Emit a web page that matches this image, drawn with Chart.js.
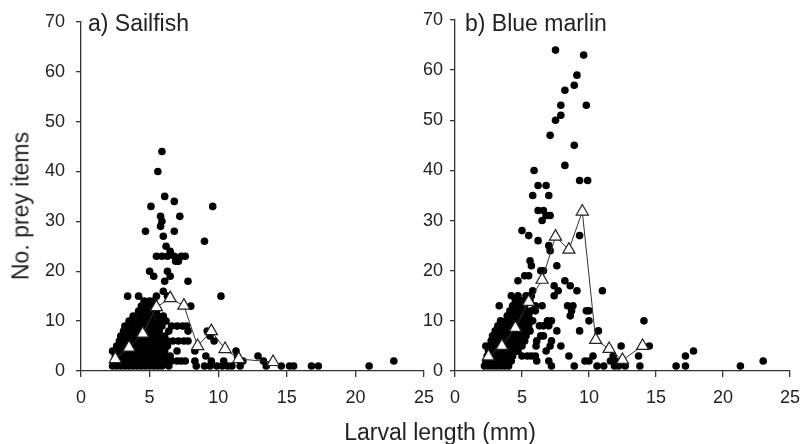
<!DOCTYPE html>
<html>
<head>
<meta charset="utf-8">
<script src="https://cdn.jsdelivr.net/npm/chart.js@4.4.1/dist/chart.umd.min.js"></script>
<style>
  body { margin: 0; background: #fff; width: 810px; height: 444px; overflow: hidden; position: relative;
         font-family: "Liberation Sans", Arial, sans-serif; color: #222; }
  canvas { position: absolute; left: 0; top: 0; }
  .lbl { position: absolute; white-space: nowrap; font-size: 23px; line-height: 23px; }
</style>
</head>
<body>
<canvas id="sailfish" width="810" height="444"></canvas>
<canvas id="marlin" width="810" height="444"></canvas>
<div class="lbl" style="left:88px;top:12px">a) Sailfish</div>
<div class="lbl" style="left:465px;top:12px">b) Blue marlin</div>
<div class="lbl" style="left:440px;top:421px;transform:translateX(-50%)">Larval length (mm)</div>
<div class="lbl" style="left:21px;top:206px;transform:translate(-50%,-50%) rotate(-90deg)">No. prey items</div>
<script>
// x ticks / y ticks
const xTicks = [0, 5, 10, 15, 20, 25];
const yTicks = [0, 10, 20, 30, 40, 50, 60, 70];

// a) Sailfish - individual larvae [length mm, prey items]
const sailfishPoints = [
  [2.3,1],[2.6,1],[2.9,1],[3.2,1],[3.5,1],[3.8,1],[4.1,1],[4.4,1],[4.7,1],[5.0,1],[5.3,1],[5.6,1],[5.9,1],[6.4,1],
  [2.4,2],[2.8,2],[3.1,2],[3.4,2],[3.7,2],[4.0,2],[4.3,2],[4.6,2],[4.9,2],[5.2,2],[5.5,2],[5.8,2],[6.2,2],[6.6,2],
  [2.5,3],[2.9,3],[3.3,3],[3.6,3],[3.9,3],[4.2,3],[4.6,3],[5.0,3],[5.3,3],[5.7,3],[6.0,3],
  [2.3,4],[2.7,4],[3.0,4],[3.4,4],[3.8,4],[4.1,4],[4.5,4],[4.9,4],[5.2,4],[5.6,4],[6.1,4],
  [2.6,5],[3.0,5],[3.3,5],[3.7,5],[4.0,5],[4.4,5],[4.8,5],[5.1,5],[5.5,5],[5.9,5],[6.3,5],
  [2.8,6],[3.2,6],[3.5,6],[3.9,6],[4.3,6],[4.7,6],[5.0,6],[5.4,6],[5.8,6],
  [2.9,7],[3.3,7],[3.6,7],[4.0,7],[4.4,7],[4.8,7],[5.2,7],[5.6,7],[6.1,7],
  [3.1,8],[3.5,8],[3.9,8],[4.2,8],[4.6,8],[5.0,8],[5.3,8],[5.7,8],[6.4,8],
  [3.2,9],[3.7,9],[4.1,9],[4.5,9],[4.9,9],[5.4,9],[5.9,9],
  [3.5,10],[3.9,10],[4.4,10],[4.8,10],[5.2,10],[5.7,10],[6.2,10],
  [3.8,11],[4.3,11],[4.7,11],[5.1,11],[5.6,11],[6.0,11],
  [4.2,12],[4.6,12],[5.0,12],[5.5,12],
  [4.4,13],[4.8,13],[5.2,13],
  [4.6,14],[5.0,14],[5.3,14],
  [6.6,9],[7.0,9],[7.4,9],[7.7,9],[7.8,8],
  [6.0,6],[6.3,6],[6.7,6],[7.1,6],[7.5,6],[7.8,6],
  [7.0,4],[7.0,2],[7.3,2],[7.6,2],[6.5,3],
  [3.4,15],[4.2,15],[5.5,15],[6.3,15],[10.2,15],[8.0,13],
  [6.0,16],[6.1,18],[7.8,18],[5.3,19],[5.0,20],[6.3,20],[6.5,19],
  [6.9,22],[7.1,22],[5.5,23],[5.9,23],[6.3,23],[6.8,23],[7.3,23],[7.6,23],
  [6.5,24],[6.2,25],[9.0,26],[6.0,27],[4.7,28],[6.8,28],
  [5.8,29],[5.9,30],[5.8,31],[7.2,31],[5.1,33],[9.6,33],[6.8,34],[6.1,35],[5.6,40],[5.9,44],
  [8.3,4],[8.3,2],[8.4,1],[9.0,1],[9.4,1],[9.9,1],[10.3,1],[10.7,1],
  [9.1,3],[9.5,2],[10.4,2],[9.2,8],[9.4,7],[9.7,6],
  [11.0,1],[11.3,4],[11.4,3],[11.8,2],[11.6,1],
  [12.9,3],[13.3,2],[13.5,1],[14.6,1],[15.2,1],[15.5,1],[16.8,1],[17.3,1],[21.0,1],[22.8,2]
];
// a) Sailfish - mean per 1 mm class
const sailfishMeans = [
  [2.5,2.4],[3.5,4.7],[4.5,7.5],[5.5,12.8],[6.5,14.6],[7.5,13.1],[8.5,5.0],[9.5,8.0],[10.5,4.4],[11.5,2.4],[14.0,1.8]
];

// b) Blue marlin - individual larvae [length mm, prey items]
const marlinPoints = [
  [2.2,1],[2.5,1],[2.8,1],[3.1,1],[3.4,1],[3.7,1],[4.0,1],
  [2.3,2],[2.6,2],[2.9,2],[3.2,2],[3.5,2],[3.8,2],[4.2,2],
  [2.4,3],[2.7,3],[3.0,3],[3.3,3],[3.6,3],[3.9,3],[4.3,3],
  [2.5,4],[2.8,4],[3.1,4],[3.4,4],[3.7,4],[4.0,4],[4.4,4],[4.7,4],
  [2.3,5],[2.6,5],[2.9,5],[3.2,5],[3.6,5],[3.9,5],[4.3,5],[4.6,5],[5.0,5],
  [2.7,6],[3.0,6],[3.3,6],[3.7,6],[4.0,6],[4.4,6],[4.8,6],[5.2,6],
  [2.8,7],[3.1,7],[3.5,7],[3.8,7],[4.2,7],[4.5,7],[4.9,7],[5.3,7],
  [3.0,8],[3.3,8],[3.7,8],[4.1,8],[4.5,8],[4.8,8],[5.2,8],[5.6,8],
  [3.2,9],[3.6,9],[4.0,9],[4.4,9],[4.7,9],[5.1,9],[5.5,9],
  [3.4,10],[3.8,10],[4.2,10],[4.6,10],[5.0,10],[5.4,10],[5.8,10],
  [3.9,11],[4.3,11],[4.7,11],[5.1,11],[5.5,11],
  [4.1,12],[4.5,12],[4.9,12],[5.3,12],[5.7,12],
  [3.3,13],[4.3,13],[4.8,13],[5.2,13],[6.0,13],
  [4.5,14],[5.0,14],[5.6,14],
  [4.2,15],[4.7,15],[5.3,15],[5.7,15],
  [5.0,3],[5.4,3],[5.7,3],[6.1,2],[6.0,3],[6.05,5],[6.4,7],[6.1,6],[6.3,9],[6.0,12],[6.9,10],[6.6,7],[4.6,4],
  [7.2,1],[6.8,4],[7.2,6],[7.1,5],[7.0,2],[8.5,3],[7.9,5],[8.9,1],
  [7.2,10],[7.0,9],[6.6,9],[7.6,8],[9.3,8],[10.7,8],[10.0,10],[14.1,10],
  [8.7,12],[8.6,11],[9.8,12],[10.0,12],[8.4,13],[8.8,13],[6.5,13],
  [7.4,15],[5.8,16],[5.6,15],[7.7,16],[9.1,16],[11.0,16],[7.4,17],[8.6,17],[8.2,18],[4.7,18],
  [5.2,19],[5.5,19],[6.4,20],[6.6,20],[7.6,21],[5.7,21],[5.6,22],
  [7.1,24],[7.0,25],[6.2,26],[5.5,27],[9.3,27],[5.0,28],
  [6.5,30],[6.8,31],[7.1,31],[6.2,32],[6.6,32],[5.8,35],[7.0,35],[6.2,37],[6.8,37],[9.3,38],[9.9,38],
  [5.9,40],[8.2,41],[8.9,45],[7.1,47],[7.5,50],[7.9,51],[7.9,53],[9.8,53],[8.2,56],[8.9,57],[9.1,59],[9.6,63],[7.5,64],
  [9.7,2],[10.0,2],[10.3,3],[10.6,1],[11.1,1],[11.6,2],[12.0,2],[11.8,3],[11.9,1],[12.2,1],[12.7,1],[12.4,5],
  [13.7,3],[13.8,1],[14.5,5],[16.5,1],[17.2,1],[17.2,3],[17.8,4],[21.3,1],[23.0,2]
];
// b) Blue marlin - mean per 1 mm class
const marlinMeans = [
  [2.5,2.9],[3.5,5.0],[4.5,8.6],[5.5,13.8],[6.5,18.2],[7.5,26.8],[8.5,24.2],[9.5,31.8],[10.5,6.2],[11.5,4.4],[12.5,2.2],[14.0,5.0]
];

const FONT = '"Liberation Sans", Arial, sans-serif';
const AXIS = '#333';

function toXY(list) {
  return list.map(p => ({x: p[0], y: p[1]}));
}

function makePanel(id, points, means, yWidth, rightPad) {
  return new Chart(document.getElementById(id), {
    type: 'scatter',
    data: {
      datasets: [
        {
          data: toXY(means),
          showLine: true,
          borderColor: '#333',
          borderWidth: 1,
          pointStyle: 'triangle',
          pointRadius: 7,
          pointBackgroundColor: '#fff',
          pointBorderColor: '#222',
          pointBorderWidth: 1.2,
          order: 0
        },
        {
          data: toXY(points),
          pointRadius: 3.8,
          pointBackgroundColor: '#000',
          pointBorderWidth: 0,
          order: 1
        }
      ]
    },
    options: {
      responsive: false,
      animation: false,
      clip: false,
      layout: { padding: { left: 0, top: 20, right: rightPad, bottom: 0 } },
      plugins: { legend: { display: false }, tooltip: { enabled: false } },
      scales: {
        x: {
          type: 'linear',
          min: 0, max: 25,
          afterBuildTicks: s => { s.ticks = xTicks.map(v => ({value: v})); },
          afterFit: s => { s.height = 73; },
          grid: { drawOnChartArea: false, drawTicks: true, tickLength: 6, color: AXIS, lineWidth: 1.3 },
          border: { display: true, color: AXIS, width: 1.3 },
          ticks: { color: '#222', padding: 10, maxRotation: 0, font: { family: FONT, size: 18 } }
        },
        y: {
          type: 'linear',
          min: 0, max: 70,
          afterBuildTicks: s => { s.ticks = yTicks.map(v => ({value: v})); },
          afterFit: s => { s.width = yWidth; },
          grid: { drawOnChartArea: false, drawTicks: true, tickLength: 5, color: AXIS, lineWidth: 1.3 },
          border: { display: true, color: AXIS, width: 1.3 },
          ticks: { color: '#222', padding: yWidth > 100 ? 7 : 11, font: { family: FONT, size: 18 } }
        }
      }
    }
  });
}

makePanel('sailfish', sailfishPoints, sailfishMeans, 81, 386);
makePanel('marlin', marlinPoints, marlinMeans, 455, 11);
</script>
</body>
</html>
